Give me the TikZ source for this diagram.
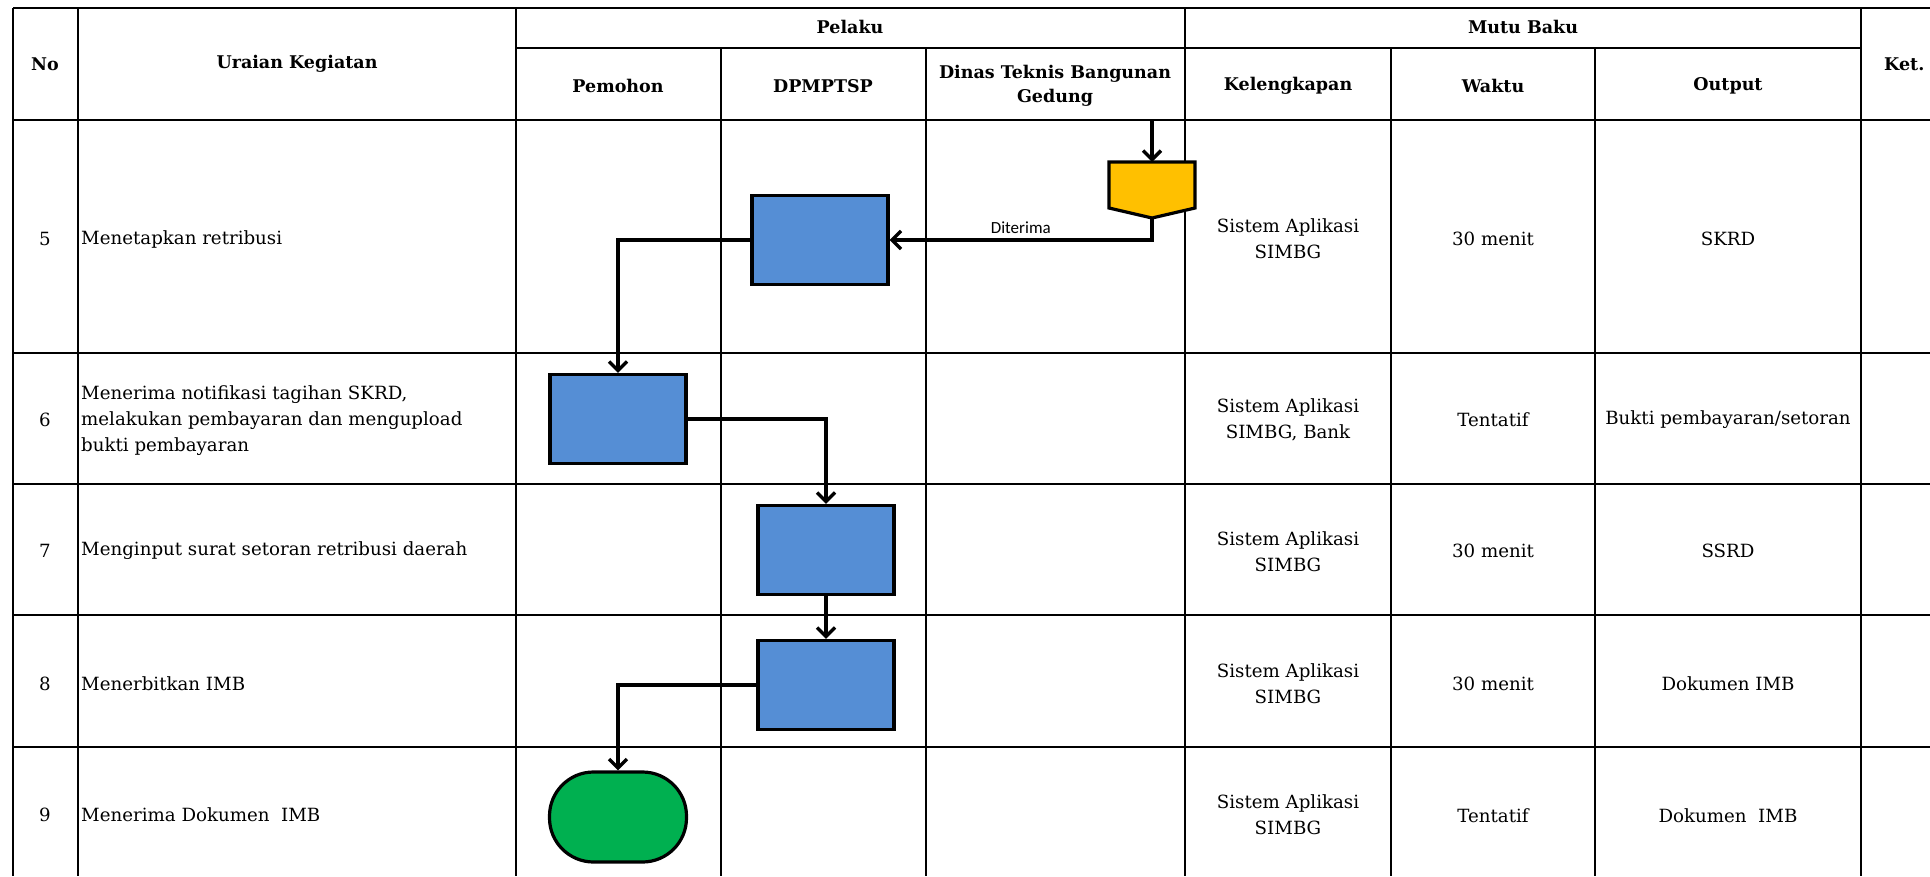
\documentclass[tikz,border=0pt]{standalone}
\usepackage{fontspec}
\setmainfont{DejaVu Serif}
\newfontfamily\calfont{Carlito}
\usetikzlibrary{arrows.meta}
\definecolor{boxblue}{RGB}{85,142,213}
\definecolor{conyellow}{RGB}{255,192,0}
\definecolor{termgreen}{RGB}{0,176,80}
\begin{document}
\begin{tikzpicture}[x=1pt,y=-1pt,
  gridline/.style={line width=2.7pt},
  hdr/.style={font=\bfseries\fontsize{17.5}{24}\selectfont, align=center},
  cell/.style={font=\fontsize{18.2}{26}\selectfont, align=center},
  desc/.style={font=\fontsize{18.2}{26}\selectfont, align=left, anchor=west, inner sep=0pt},
  proc/.style={draw, line width=3.2pt, fill=boxblue, minimum width=136pt, minimum height=89pt, inner sep=0pt},
  term/.style={draw, line width=3.2pt, fill=termgreen, minimum width=137pt, minimum height=90pt, inner sep=0pt, rounded corners=44pt},
  flow/.style={line width=3.4pt, -{Straight Barb[length=9pt,width=18pt]}},
]
\useasboundingbox (0,0) rectangle (1930,876);
% table grid
\draw[gridline] (13,8) -- (1930,8);
\draw[gridline] (516,48) -- (1861,48);
\draw[gridline] (13,120) -- (1930,120);
\foreach \yy in {353,484,615,747} \draw[gridline] (13,\yy) -- (1930,\yy);
\foreach \xx in {13,78,516,1185,1861} \draw[gridline] (\xx,8) -- (\xx,876);
\foreach \xx in {721,926,1391,1595} \draw[gridline] (\xx,48) -- (\xx,876);
% headers
\node[hdr] (hno) at (45,64) {No};
\node[hdr] (hur) at (297,64) {Uraian Kegiatan};
\node[hdr] (hpel) at (850,27) {Pelaku};
\node[hdr] (hmutu) at (1523,27) {Mutu Baku};
\node[hdr] (hpem) at (618,86) {Pemohon};
\node[hdr] (hdpm) at (823,86) {DPMPTSP};
\node[hdr] (hdin) at (1055,86) {Dinas Teknis Bangunan\\Gedung};
\node[hdr] (hkel) at (1288,86) {Kelengkapan};
\node[hdr] (hwak) at (1493,86) {Waktu};
\node[hdr] (hout) at (1728,86) {Output};
\node[hdr, anchor=west, inner sep=0pt] (hket) at (1884,64) {Ket.};
% row numbers
\node[cell] (n5) at (45,239) {5};
\node[cell] (n6) at (45,420) {6};
\node[cell] (n7) at (45,551) {7};
\node[cell] (n8) at (45,684) {8};
\node[cell] (n9) at (45,815) {9};
% descriptions
\node[desc] (d5) at (81,239) {Menetapkan retribusi};
\node[desc] (d6) at (81,421) {Menerima notifikasi tagihan SKRD,\\melakukan pembayaran dan mengupload\\bukti pembayaran};
\node[desc] (d7) at (81,551) {Menginput surat setoran retribusi daerah};
\node[desc] (d8) at (81,684) {Menerbitkan IMB};
\node[desc] (d9) at (81,815) {Menerima Dokumen\ \ IMB};
% kelengkapan
\node[cell] (k5) at (1288,239) {Sistem Aplikasi\\SIMBG};
\node[cell] (k6) at (1288,420) {Sistem Aplikasi\\SIMBG, Bank};
\node[cell] (k7) at (1288,552) {Sistem Aplikasi\\SIMBG};
\node[cell] (k8) at (1288,684) {Sistem Aplikasi\\SIMBG};
\node[cell] (k9) at (1288,815) {Sistem Aplikasi\\SIMBG};
% waktu
\node[cell] (w5) at (1493,239) {30 menit};
\node[cell] (w6) at (1493,420) {Tentatif};
\node[cell] (w7) at (1493,551) {30 menit};
\node[cell] (w8) at (1493,684) {30 menit};
\node[cell] (w9) at (1493,816) {Tentatif};
% output
\node[cell] (o5) at (1728,239) {SKRD};
\node[cell] (o6) at (1728,420) {Bukti pembayaran/setoran};
\node[cell] (o7) at (1728,551) {SSRD};
\node[cell] (o8) at (1728,684) {Dokumen IMB};
\node[cell] (o9) at (1728,816) {Dokumen\ \ IMB};
% flow shapes
\coordinate (instart) at (1152,121);
\coordinate (offtop) at (1152,162);
\coordinate (offtip) at (1152,218);
\filldraw[line width=3.2pt, fill=conyellow, line join=miter] (1109,162) -- (1195,162) -- (1195,208) -- (offtip) -- (1109,208) -- cycle;
\node[proc] (b5) at (820,240) {};
\node[proc] (b6) at (618,419) {};
\node[proc] (b7) at (826,550) {};
\node[proc] (b8) at (826,685) {};
\node[term] (fin) at (618,817) {};
% connectors
\draw[flow] (instart) -- (offtop);
\draw[flow] (offtip) |- (b5.east) node[pos=0.75, above=1pt, font=\calfont\fontsize{17}{19}\selectfont, text=black] {Diterima};
\draw[flow] (b5.west) -| (b6.north);
\draw[flow] (b6.east) -| (b7.north);
\draw[flow] (b7.south) -- (b8.north);
\draw[flow] (b8.west) -| (fin.north);
\end{tikzpicture}
\end{document}
